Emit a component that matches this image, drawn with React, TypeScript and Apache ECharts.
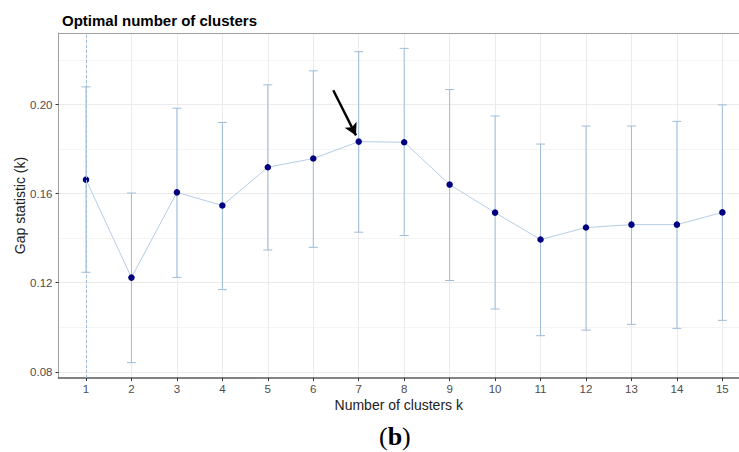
import React, { useEffect, useRef } from "react";
import * as echarts from "echarts";

const clusters = [1, 2, 3, 4, 5, 6, 7, 8, 9, 10, 11, 12, 13, 14, 15];
const gap = [0.1663, 0.1223, 0.1606, 0.1547, 0.1719, 0.1758, 0.1834, 0.1831, 0.1641, 0.1515, 0.1394, 0.1448, 0.1461, 0.1461, 0.1516];
const upper = [0.2080, 0.1603, 0.1984, 0.1920, 0.2089, 0.2152, 0.2238, 0.2253, 0.2068, 0.1949, 0.1823, 0.1904, 0.1904, 0.1925, 0.1999];
const lower = [0.1247, 0.0841, 0.1224, 0.1169, 0.1347, 0.1359, 0.1427, 0.1412, 0.1210, 0.1082, 0.0962, 0.0987, 0.1013, 0.0995, 0.1031];
const yTicks = [0.08, 0.12, 0.16, 0.2];
const yMinorGrid = [0.1, 0.14, 0.18, 0.22];
const optimalK = 1;
const arrowFrom = [6.44, 0.2065];
const arrowTo = [6.94, 0.1862];

const errColor = "#9dbcd9";
const X_MIN = 0.395;
const X_MAX = 15.366;
const Y_MIN = 0.0772;
const Y_MAX = 0.2322;

export default function App() {
  const ref = useRef<HTMLDivElement>(null);
  useEffect(() => {
    if (!ref.current) return;
    const chart = echarts.init(ref.current, null, { renderer: "svg" });
    const font = "Liberation Sans, Arial, sans-serif";
    const serif = "Liberation Serif, DejaVu Serif, serif";
    chart.setOption({
      animation: false,
      backgroundColor: "#ffffff",
      title: {
        text: "Optimal number of clusters",
        left: 57,
        top: 8,
        textStyle: { fontFamily: font, fontSize: 15, fontWeight: "bold", color: "#000" },
      },
      grid: {
        left: 58.5,
        top: 33,
        right: 0,
        height: 345,
        show: false,
        containLabel: false,
        outerBoundsMode: "none",
      },
      xAxis: [
        {
          type: "value",
          min: X_MIN,
          max: X_MAX,
          name: "Number of clusters k",
          nameLocation: "middle",
          nameGap: 20,
          nameMoveOverlap: false,
          nameTextStyle: { fontFamily: font, fontSize: 14, color: "#222" },
          axisLine: { show: true, onZero: false, lineStyle: { color: "#5a5a5a", width: 1.6 } },
          axisTick: { show: true, length: 3, lineStyle: { color: "#333" }, customValues: clusters },
          axisLabel: { customValues: clusters, fontFamily: font, fontSize: 11.5, color: "#4d4d4d", margin: 5 },
          splitLine: { show: true, lineStyle: { color: "#ebebeb", width: 1 } },
        },
        {
          type: "value",
          position: "top",
          min: X_MIN,
          max: X_MAX,
          axisLine: { show: true, onZero: false, lineStyle: { color: "#a0a0a0", width: 1 } },
          axisTick: { show: false },
          axisLabel: { show: false },
          splitLine: { show: false },
        },
      ],
      yAxis: [
        {
          type: "value",
          min: Y_MIN,
          max: Y_MAX,
          name: "Gap statistic (k)",
          nameLocation: "middle",
          nameRotate: 90,
          nameGap: 31.5,
          nameMoveOverlap: false,
          nameTextStyle: { fontFamily: font, fontSize: 14, color: "#222" },
          axisLine: { show: true, onZero: false, lineStyle: { color: "#a0a0a0", width: 1 } },
          axisTick: { show: true, length: 3, lineStyle: { color: "#333" }, customValues: yTicks },
          axisLabel: {
            customValues: yTicks,
            fontFamily: font,
            fontSize: 11.5,
            color: "#4d4d4d",
            margin: 6,
            formatter: (v: number) => v.toFixed(2),
          },
          splitLine: { show: true, lineStyle: { color: "#ebebeb", width: 1 } },
        },
        {
          type: "value",
          position: "left",
          min: Y_MIN,
          max: Y_MAX,
          axisLine: { show: false },
          axisTick: { show: false, customValues: yMinorGrid },
          axisLabel: { show: false, customValues: yMinorGrid },
          splitLine: { show: true, lineStyle: { color: "#f4f4f4", width: 1 } },
        },
      ],
      series: [
        {
          type: "line",
          data: clusters.map((k, i) => [k, gap[i]]),
          symbol: "none",
          lineStyle: { color: "#b5cde5", width: 1 },
          z: 2,
        },
        {
          type: "custom",
          data: clusters.map((k, i) => [k, lower[i], upper[i]]),
          encode: { x: 0, y: [1, 2] },
          z: 3,
          renderItem: (params: any, api: any) => {
            const x = api.value(0);
            const lo = api.coord([x, api.value(1)]);
            const hi = api.coord([x, api.value(2)]);
            const hw = 4.5;
            const style = { stroke: errColor, lineWidth: 1 };
            return {
              type: "group",
              children: [
                { type: "line", shape: { x1: hi[0], y1: hi[1], x2: lo[0], y2: lo[1] }, style },
                { type: "line", shape: { x1: hi[0] - hw, y1: hi[1], x2: hi[0] + hw, y2: hi[1] }, style },
                { type: "line", shape: { x1: lo[0] - hw, y1: lo[1], x2: lo[0] + hw, y2: lo[1] }, style },
              ],
            };
          },
          markLine: {
            silent: true,
            symbol: "none",
            label: { show: false },
            data: [{ xAxis: optimalK, lineStyle: { color: errColor, width: 1, type: [3, 2] } }],
          },
        },
        {
          type: "scatter",
          data: clusters.map((k, i) => [k, gap[i]]),
          symbol: "circle",
          symbolSize: 6.5,
          itemStyle: { color: "#000080", opacity: 1 },
          z: 4,
        },
        {
          type: "line",
          data: [],
          z: 5,
          markLine: {
            silent: true,
            symbol: ["none", "arrow"],
            symbolSize: [10, 12],
            label: { show: false },
            lineStyle: { color: "#000", width: 2.4, type: "solid" },
            data: [[{ coord: arrowFrom }, { coord: arrowTo }]],
          },
        },
      ],
      graphic: [
        {
          type: "text",
          left: 379,
          top: 423,
          style: {
            text: "{n|(}{b|b}{n|)}",
            rich: {
              n: { fontFamily: serif, fontSize: 26, color: "#000" },
              b: { fontFamily: serif, fontSize: 26, fontWeight: "bold", color: "#000" },
            },
          },
        },
      ],
    });
    return () => chart.dispose();
  }, []);
  return <div ref={ref} style={{ position: "fixed", left: 0, top: 0, width: 739, height: 452 }} />;
}
